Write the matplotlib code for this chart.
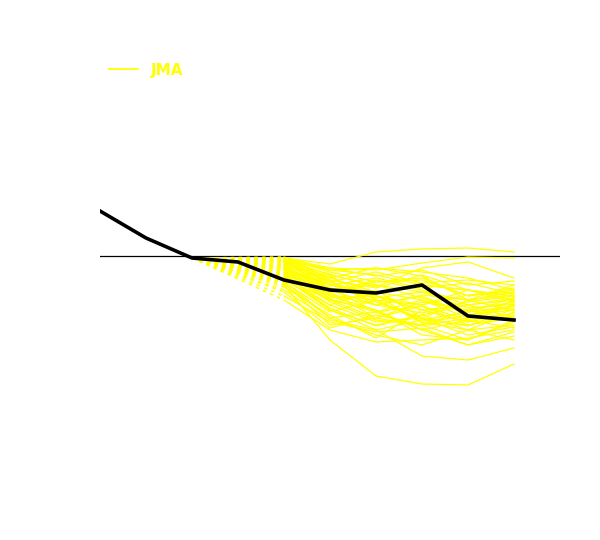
import matplotlib
matplotlib.use('Agg')
import matplotlib.pyplot as plt

steps = list(range(10))
observed = [45, 18, -2, -6, -24, -34, -37, -29, -60, -64]

# forecast members start at step 4, branching from observed at step 2
start_step = 2
fc_steps = [4, 5, 6, 7, 8, 9]
members = [
    [-29, -84, -120, -128, -129, -108],
    [-2, -8, 4, 7, 8, 4],
    [-6, -12, -14, -7, -1, -2],
    [-44, -74, -86, -84, -82, -74],
    [-34, -64, -74, -100, -104, -92],
    [-19, -44, -54, -74, -89, -80],
    [-14, -46, -64, -69, -84, -64],
    [-12, -29, -36, -44, -62, -49],
    [-9, -22, -12, -16, -22, -34],
    [-4, -14, -19, -29, -34, -40],
    [-7, -26, -40, -54, -49, -44],
    [-10, -34, -49, -40, -59, -54],
    [-16, -39, -44, -64, -69, -62],
    [-22, -54, -69, -59, -74, -69],
    [-25, -62, -56, -74, -64, -72],
    [-3, -19, -29, -36, -44, -29],
    [-5, -24, -32, -19, -34, -44],
    [-8, -20, -44, -49, -39, -36],
    [-11, -36, -24, -34, -49, -42],
    [-13, -32, -56, -44, -56, -50],
    [-17, -42, -40, -54, -66, -57],
    [-20, -49, -34, -62, -44, -39],
    [-23, -44, -62, -46, -54, -46],
    [-26, -56, -44, -66, -74, -56],
    [-2, -16, -26, -24, -40, -32],
    [-4, -29, -22, -32, -27, -38],
    [-6, -32, -42, -36, -52, -48],
    [-9, -39, -49, -57, -46, -40],
    [-12, -28, -46, -62, -70, -53],
    [-15, -36, -62, -70, -62, -59],
    [-18, -54, -74, -64, -56, -52],
    [-21, -40, -54, -79, -84, -66],
    [-24, -49, -66, -62, -79, -71],
    [-1, -14, -12, -20, -44, -36],
    [-3, -22, -36, -29, -34, -46],
    [-5, -34, -29, -42, -56, -42],
    [-7, -25, -49, -39, -44, -55],
    [-10, -43, -56, -50, -64, -44],
    [-14, -29, -39, -67, -59, -50],
    [-27, -69, -62, -50, -69, -60],
    [-40, -66, -76, -72, -89, -76],
    [-31, -59, -82, -54, -66, -48],
    [-6, -18, -31, -12, -6, -22],
    [-10, -26, -16, -27, -24, -29],
    [-14, -37, -26, -22, -40, -34],
    [-19, -32, -40, -49, -34, -41],
    [-2, -12, -20, -14, -29, -25],
    [-36, -72, -59, -69, -54, -64],
    [-28, -62, -79, -89, -74, -84],
    [-23, -52, -70, -59, -49, -62],
]

yellow = '#ffff00'

fig = plt.figure(figsize=(6, 5.4), dpi=100)
ax = fig.add_axes([100 / 600, 84 / 540, 460 / 600, 400 / 540])

ax.axhline(0, color='black', lw=0.9, zorder=1)

for i, m in enumerate(members):
    ax.plot([start_step, fc_steps[0]], [observed[start_step], m[0]],
            color=yellow, lw=1.1, linestyle=(0, (2.2, 2.9)), zorder=2)
    ax.plot(fc_steps, m, color=yellow, lw=0.9, zorder=2,
            label='JMA' if i == 0 else None)

ax.plot(steps, observed, color='black', lw=2.6, zorder=3)

ax.set_xlim(0, 10)
ax.set_ylim(-200, 200)
ax.axis('off')

leg = ax.legend(loc='upper left', frameon=False, fontsize=11,
                handlelength=1.9, bbox_to_anchor=(-0.01, 1.018))
for t in leg.get_texts():
    t.set_color(yellow)
    t.set_fontweight('bold')
for h in leg.get_lines():
    h.set_linewidth(1.3)

fig.savefig('out.png', dpi=100)
